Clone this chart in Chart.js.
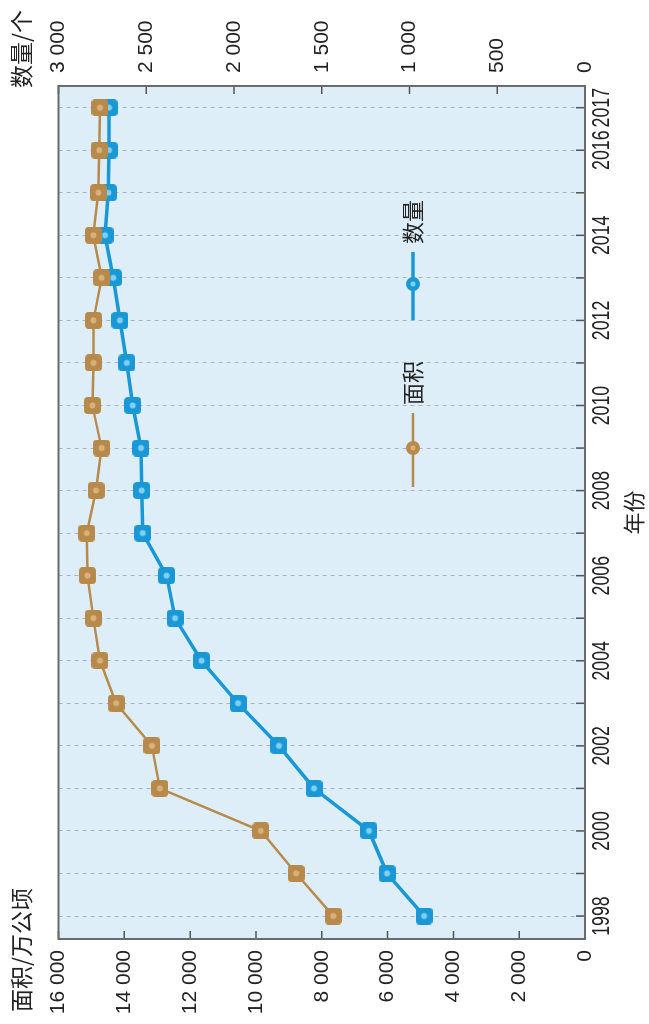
<!DOCTYPE html>
<html><head><meta charset="utf-8">
<script src="https://cdn.jsdelivr.net/npm/chart.js@4/dist/chart.umd.min.js"></script>
<style>
html,body{margin:0;padding:0;background:#fff;overflow:hidden;width:649px;height:1024px;}
#wrap{position:absolute;left:0;top:0;width:1024px;height:649px;transform-origin:0 0;transform:translateY(1024px) rotate(-90deg);}
canvas{display:block;}
</style></head><body>
<div id="wrap"><canvas id="c" width="1024" height="649"></canvas></div>
<script>
// ---- data ----
const years = [1998,1999,2000,2001,2002,2003,2004,2005,2006,2007,2008,2009,2010,2011,2012,2013,2014,2015,2016,2017];
const yearLabels = [1998,2000,2002,2004,2006,2008,2010,2012,2014,2016,2017];
const areaValues = [7650,8780,9850,12920,13160,14250,14740,14940,15120,15140,14860,14690,14970,14940,14940,14690,14940,14790,14760,14740];
const countValues = [917,1128,1231,1544,1744,1977,2185,2336,2384,2520,2526,2530,2577,2611,2650,2688,2735,2716,2712,2712];
const areaTicks = [0,2000,4000,6000,8000,10000,12000,14000,16000];
const countTicks = [0,500,1000,1500,2000,2500,3000];
const areaName = '面积';
const countName = '数量';
const areaAxisTitle = '面积/万公顷';
const countAxisTitle = '数量/个';
const yearAxisTitle = '年份';

const BLUE = '#1a98d5', BLUE_L = '#7fd0f2';
const BROWN = '#b78a4c', BROWN_L = '#d9b27a';
const CJK = '"Noto Sans CJK SC", "Noto Sans", sans-serif';
const NUM = '"Liberation Sans", Arial, sans-serif';

function fmt(n){ return String(n).replace(/\B(?=(\d{3})+(?!\d))/g,' '); }

function makeMarker(col, light){
  const s = 17, c = document.createElement('canvas');
  c.width = s; c.height = s;
  const g = c.getContext('2d');
  const r = 4;
  g.fillStyle = col;
  g.beginPath();
  g.moveTo(r,0); g.lineTo(s-r,0); g.quadraticCurveTo(s,0,s,r);
  g.lineTo(s,s-r); g.quadraticCurveTo(s,s,s-r,s);
  g.lineTo(r,s); g.quadraticCurveTo(0,s,0,s-r);
  g.lineTo(0,r); g.quadraticCurveTo(0,0,r,0);
  g.fill();
  g.fillStyle = light;
  g.beginPath(); g.arc(s/2,s/2,3,0,Math.PI*2); g.fill();
  return c;
}

const decor = {
  id:'decor',
  beforeDraw(chart){
    const {ctx, chartArea:a} = chart;
    ctx.save();
    ctx.fillStyle = '#ddeef8';
    ctx.fillRect(a.left, a.top, a.right-a.left, a.bottom-a.top);
    ctx.restore();
  },
  beforeDatasetsDraw(chart){
    const {ctx, chartArea:a, scales} = chart;
    ctx.save();
    ctx.strokeStyle = '#555';
    ctx.lineWidth = 1.5;
    ctx.beginPath();
    areaTicks.forEach(v => { const y = scales.yA.getPixelForValue(v); ctx.moveTo(a.left, y); ctx.lineTo(a.left+8, y); });
    countTicks.forEach(v => { const y = scales.yC.getPixelForValue(v); ctx.moveTo(a.right-8, y); ctx.lineTo(a.right, y); });
    years.forEach(v => { const x = scales.x.getPixelForValue(v); ctx.moveTo(x, a.bottom-9); ctx.lineTo(x, a.bottom); });
    ctx.stroke();
    ctx.strokeStyle = '#6a6a6a';
    ctx.lineWidth = 2;
    ctx.strokeRect(a.left, a.top, a.right-a.left, a.bottom-a.top);
    ctx.restore();
  },
  afterDraw(chart){
    const {ctx, chartArea:a, scales} = chart;
    ctx.save();
    ctx.fillStyle = '#222';
    ctx.textBaseline = 'middle';
    // condensed year labels
    ctx.font = '24px ' + NUM;
    ctx.textAlign = 'center';
    yearLabels.forEach(v => {
      const x = scales.x.getPixelForValue(v);
      ctx.save();
      ctx.translate(x, 602);
      ctx.scale(0.74, 1);
      ctx.fillText(String(v), 0, 0);
      ctx.restore();
    });
    ctx.font = '23px ' + CJK;
    ctx.textAlign = 'left';
    ctx.fillText(areaAxisTitle, 12, 21);
    ctx.textAlign = 'right';
    ctx.fillText(countAxisTitle, 1014, 21);
    // legend
    const ly = 413;
    const items = [
      {name: areaName, col: BROWN, light: BROWN_L, x0: 537, x1: 611, w: 2.5},
      {name: countName, col: BLUE, light: BLUE_L, x0: 704, x1: 772, w: 3.5}
    ];
    items.forEach(it => {
      ctx.strokeStyle = it.col; ctx.lineWidth = it.w;
      ctx.beginPath(); ctx.moveTo(it.x0, ly); ctx.lineTo(it.x1, ly); ctx.stroke();
      const cx = (it.x0+it.x1)/2 + 2;
      ctx.fillStyle = it.col;
      ctx.beginPath(); ctx.arc(cx, ly, 7, 0, Math.PI*2); ctx.fill();
      ctx.fillStyle = it.light;
      ctx.beginPath(); ctx.arc(cx, ly, 2.5, 0, Math.PI*2); ctx.fill();
      ctx.fillStyle = '#222';
      ctx.textAlign = 'left';
      ctx.font = '22px ' + CJK;
      ctx.fillText(it.name, it.x1 + 8, ly);
    });
    ctx.restore();
  }
};

new Chart(document.getElementById('c'), {
  type: 'line',
  data: {
    datasets: [
      {
        label: areaName, yAxisID: 'yA',
        data: years.map((y,i) => ({x: y, y: areaValues[i]})),
        borderColor: BROWN, borderWidth: 2.5, tension: 0,
        pointStyle: makeMarker(BROWN, BROWN_L), pointRadius: 8
      },
      {
        label: countName, yAxisID: 'yC',
        data: years.map((y,i) => ({x: y, y: countValues[i]})),
        borderColor: BLUE, borderWidth: 3.5, tension: 0,
        pointStyle: makeMarker(BLUE, BLUE_L), pointRadius: 8
      }
    ]
  },
  options: {
    responsive: false, animation: false, devicePixelRatio: 1,
    layout: {padding: {top: 58.5, left: 0, right: 0, bottom: 0}},
    plugins: {legend: {display: false}, tooltip: {enabled: false}},
    scales: {
      x: {
        type: 'linear', position: 'bottom', min: 1997.46, max: 2017.51,
        afterBuildTicks: s => { s.ticks = years.map(v => ({value: v})); },
        afterFit: s => { s.height = 64; },
        ticks: {display: false},
        grid: {display: true, drawTicks: false, color: '#a9b3b8', lineWidth: 1},
        border: {display: false, dash: [4,4]},
        title: {display: true, text: yearAxisTitle, color: '#222', font: {family: CJK, size: 22}, padding: {top: 0, bottom: 2}}
      },
      yA: {
        type: 'linear', position: 'left', min: 0, max: 16000,
        afterBuildTicks: s => { s.ticks = areaTicks.map(v => ({value: v})); },
        afterFit: s => { s.width = 85; },
        ticks: {padding: 11, color: '#222', font: {family: NUM, size: 21}, callback: v => fmt(v)},
        grid: {display: false, drawTicks: false},
        border: {display: false}
      },
      yC: {
        type: 'linear', position: 'right', min: 0, max: 3000,
        afterBuildTicks: s => { s.ticks = countTicks.map(v => ({value: v})); },
        afterFit: s => { s.width = 86; },
        ticks: {padding: 13, color: '#222', font: {family: NUM, size: 21}, callback: v => fmt(v)},
        grid: {display: false, drawTicks: false},
        border: {display: false}
      }
    }
  },
  plugins: [decor]
});
</script>
</body></html>
